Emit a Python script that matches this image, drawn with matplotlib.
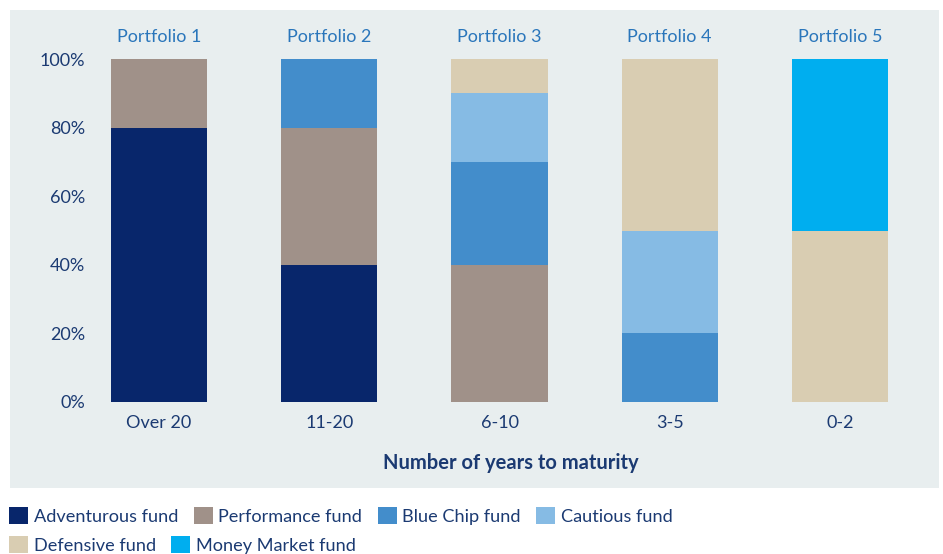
import matplotlib
matplotlib.use('Agg')
import matplotlib.pyplot as plt
from matplotlib.patches import Rectangle
import numpy as np

plt.rcParams['font.family'] = ['Lato', 'DejaVu Sans']

portfolios = ['Portfolio 1', 'Portfolio 2', 'Portfolio 3', 'Portfolio 4', 'Portfolio 5']
maturity = ['Over 20', '11-20', '6-10', '3-5', '0-2']

# share of each fund per portfolio, in %
adventurous = [80, 40, 0, 0, 0]
performance = [20, 40, 40, 0, 0]
blue_chip = [0, 20, 30, 20, 0]
cautious = [0, 0, 20, 30, 0]
defensive = [0, 0, 10, 50, 50]
money_market = [0, 0, 0, 0, 50]

funds = ['Adventurous fund', 'Performance fund', 'Blue Chip fund',
         'Cautious fund', 'Defensive fund', 'Money Market fund']
colors = ['#08266b', '#a09189', '#438dcb', '#86bbe4', '#d9cdb2', '#00aeef']

navy = '#1b3a72'
mid_blue = '#2a76bb'
panel = '#e8eeef'

fig = plt.figure(figsize=(9.43, 5.54), dpi=100)
W, H = 943, 554

# light panel behind the chart
fig.patches.append(Rectangle((10 / W, (H - 488) / H), 929 / W, 478 / H,
                             transform=fig.transFigure, facecolor=panel,
                             edgecolor='none', zorder=-5))

ax = fig.add_axes([97 / W, (H - 402) / H, 828 / W, 343 / H])
ax.set_facecolor('none')

x = np.arange(len(portfolios))
bottom = np.zeros(len(portfolios))
bars = []
for vals, name, c in zip([adventurous, performance, blue_chip, cautious,
                          defensive, money_market], funds, colors):
    b = ax.bar(x, vals, width=0.565, bottom=bottom, color=c, label=name)
    bars.append(b)
    bottom += np.array(vals)

ax.set_xlim(-0.365, 4.5)
ax.set_ylim(0, 100)
for s in ax.spines.values():
    s.set_visible(False)

ax.set_yticks([0, 20, 40, 60, 80, 100])
ax.set_yticklabels(['0%', '20%', '40%', '60%', '80%', '100%'])
ax.tick_params(axis='y', length=0, pad=8.6, labelsize=13, labelcolor=navy)

ax.set_xticks(x)
ax.set_xticklabels(maturity)
ax.tick_params(axis='x', length=0, pad=9, labelsize=13, labelcolor=navy)

top = ax.secondary_xaxis('top')
top.set_xticks(x)
top.set_xticklabels(portfolios)
top.tick_params(length=0, pad=10, labelsize=13, labelcolor=mid_blue)
top.spines['top'].set_visible(False)

ax.set_xlabel('Number of years to maturity', fontsize=14.5, fontweight='bold',
              color=navy, labelpad=16)

# legend in two rows, flowing left to right
kw = dict(frameon=False, fontsize=13.1, handlelength=1.04, handleheight=1.04,
          handletextpad=0.32, columnspacing=0.85, labelcolor=navy,
          borderaxespad=0, borderpad=0, loc='center left')
fig.legend(bars[:4], funds[:4], ncol=4,
           bbox_to_anchor=(9 / W, (H - 516) / H), **kw)
fig.legend(bars[4:], funds[4:], ncol=2,
           bbox_to_anchor=(9 / W, (H - 545) / H), **kw)

fig.savefig('out.png', dpi=100)
